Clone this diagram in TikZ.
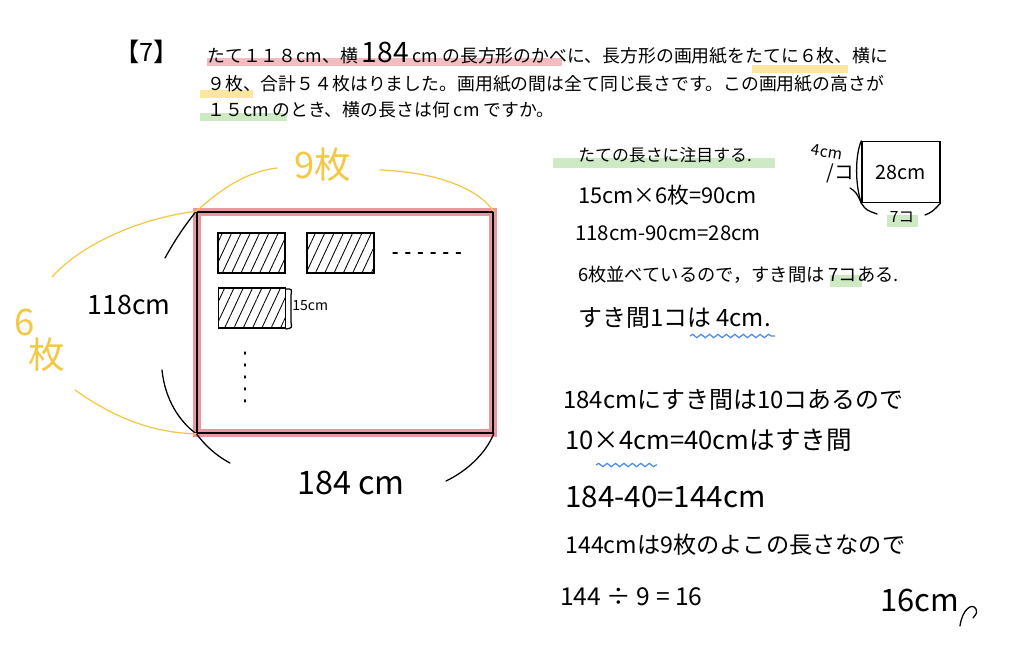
\documentclass[tikz,border=0pt]{standalone}
\usepackage{fontspec}
\setmainfont{Noto Sans CJK JP}
\usetikzlibrary{decorations.pathmorphing,patterns.meta}

\definecolor{wallpink}{RGB}{234,150,160}
\definecolor{hlpink}{RGB}{242,188,194}
\definecolor{hlyellow}{RGB}{252,230,160}
\definecolor{hlgreen}{RGB}{205,234,196}
\definecolor{penyellow}{RGB}{244,200,70}
\definecolor{penblue}{RGB}{80,140,230}

\begin{document}
\begin{tikzpicture}[x=0.025cm,y=-0.025cm,
  note/.style={anchor=west,inner sep=0pt},
  hand/.style={line width=0.9pt,line cap=round},
  yhand/.style={line width=0.9pt,line cap=round,draw=penyellow},
  wave/.style={draw=penblue,line width=0.9pt,decorate,
    decoration={snake,amplitude=1.2pt,segment length=6pt}},
  band/.style={line width=0.2cm},
  paper/.style={draw,line width=0.9pt,minimum width=1.675cm,minimum height=1cm,
    pattern={Lines[angle=65,distance=6pt,line width=0.6pt]}},
  wall/.style={draw,line width=1pt,minimum width=7.4cm,minimum height=5.525cm,
    preaction={draw=wallpink,line width=6pt}}]
\useasboundingbox (0,0) rectangle (1024,650);

% highlights behind the text
\draw[band,hlpink] (207,62) -- (562,62);
\draw[band,hlyellow] (752,69) -- (848,69);
\draw[band,hlyellow] (200,94) -- (253,94);
\draw[band,hlgreen] (200,117) -- (287,117);
\draw[band,hlgreen,line width=0.25cm] (553,163) -- (775,163);
\draw[band,hlgreen,line width=0.3cm] (830,281) -- (862,281);
\draw[band,hlgreen,line width=0.3cm] (887,221) -- (918,221);

% the question
\node[note,font=\fontsize{18}{20}\selectfont] (num) at (114,52) {【7】};
\node[note,font=\fontsize{12.7}{15}\selectfont] (q1) at (207,53)
  {たて１１８cm、横 {\fontsize{20}{20}\selectfont 184} cm の長方形のかべに、長方形の画用紙をたてに６枚、横に};
\node[note,font=\fontsize{12.7}{15}\selectfont] (q2) at (207,84)
  {９枚、合計５４枚はりました。画用紙の間は全て同じ長さです。この画用紙の高さが};
\node[note,font=\fontsize{12.7}{15}\selectfont] (q3) at (207,110)
  {１５cm のとき、横の長さは何 cm ですか。};

% wall and papers
\node[wall] (wall) at (345,322.5) {};
\node[paper] (p1) at (251.5,253) {};
\node[paper] (p2) at (340.5,253) {};
\node[paper] (p3) at (252,308) {};
\draw[hand,dash pattern=on 3pt off 6pt] (393,253) -- (462,253);
\draw[hand,dash pattern=on 1.5pt off 7pt] (245,352) -- (245,410);
\draw[hand] (286,289) .. controls (292,289) .. (291,295) -- (291,322)
  .. controls (292,328) .. (286,329);
\node[note,font=\fontsize{10}{12}\selectfont] (tall) at (292,306) {15cm};

% black braces
\coordinate (lb1) at (165,258);
\coordinate (lb2) at (162,370);
\coordinate (bb1) at (230,463);
\coordinate (bb2) at (446,481);
\draw[hand] (lb1) .. controls (175,240) and (185,225) .. (wall.north west);
\draw[hand] (lb2) .. controls (165,400) and (180,422) .. (wall.south west);
\draw[hand] (wall.south west) .. controls (205,445) and (215,455) .. (bb1);
\draw[hand] (bb2) .. controls (465,472) and (485,455) .. (wall.south east);
\node[font=\fontsize{19}{22}\selectfont] (h) at (129,305) {118cm};
\node[font=\fontsize{23}{26}\selectfont] (w) at (351,483) {184 cm};

% yellow braces
\coordinate (yt1) at (277,168);
\coordinate (yt2) at (380,170);
\coordinate (yl1) at (52,277);
\coordinate (yl2) at (75,390);
\draw[yhand] (wall.north west) .. controls (220,190) and (245,172) .. (yt1);
\draw[yhand] (yt2) .. controls (430,172) and (475,185) .. (wall.north east);
\draw[yhand] (wall.north west) .. controls (140,218) and (80,245) .. (yl1);
\draw[yhand] (yl2) .. controls (110,415) and (150,433) .. (wall.south west);
\node[penyellow,font=\fontsize{26}{28}\selectfont] (nine) at (323,165) {9枚};
\node[penyellow,font=\fontsize{26}{28}\selectfont] (six) at (25,322) {6};
\node[penyellow,font=\fontsize{26}{28}\selectfont] (sixb) at (47,355) {枚};

% gap box
\node[draw,line width=0.9pt,minimum width=1.95cm,minimum height=1.525cm,
  font=\fontsize{14}{16}\selectfont] (gapbox) at (901,172) {28cm};
\coordinate (gb1) at (850,188);
\coordinate (gb2) at (877,214);
\coordinate (gb3) at (925,215);
\draw[hand] (gapbox.north west) .. controls (855,155) and (855,185) .. (gapbox.south west);
\draw[hand] (gb1) .. controls (856,192) .. (gapbox.south west);
\draw[hand] (gapbox.south west) .. controls (866,210) .. (gb2);
\draw[hand] (gb3) .. controls (932,212) .. (gapbox.south east);
\node[font=\fontsize{11}{12}\selectfont] (seven) at (902,217) {7コ};
\node[font=\fontsize{11}{12}\selectfont,rotate=-10] (per) at (827,152) {4cm};
\node[font=\fontsize{14}{15}\selectfont] (perko) at (840,173) {/コ};

% working
\node[note,font=\fontsize{12}{15}\selectfont] (n1) at (578,155) {たての長さに注目する.};
\node[note,font=\fontsize{15.5}{19}\selectfont] (n2) at (578,195) {15cm×6枚=90cm};
\node[note,font=\fontsize{14.5}{18}\selectfont] (n3) at (575,233) {118cm-90cm=28cm};
\node[note,font=\fontsize{13}{16}\selectfont] (n4) at (578,275) {6枚並べているので，すき間は 7コある.};
\node[note,font=\fontsize{17}{20}\selectfont] (n5) at (578,318) {すき間1コは 4cm.};
\node[note,font=\fontsize{17}{20}\selectfont] (n6) at (563,400) {184cmにすき間は10コあるので};
\node[note,font=\fontsize{18.2}{22}\selectfont] (n7) at (565,440) {10×4cm=40cmはすき間};
\node[note,font=\fontsize{21}{24}\selectfont] (n8) at (565,497) {184-40=144cm};
\node[note,font=\fontsize{16.5}{20}\selectfont] (n9) at (565,545) {144cmは9枚のよこの長さなので};
\node[note,font=\fontsize{17.5}{22}\selectfont] (n10) at (560,597) {144 ÷ 9 = 16};
\node[note,font=\fontsize{22}{26}\selectfont] (ans) at (880,600) {16cm};
\coordinate (c1) at (960,626);
\coordinate (c2) at (973,618);
\draw[hand] (c1) .. controls (962,610) and (972,602) .. (976,609) .. controls (977,613) .. (c2);

% wavy underlines
\draw[wave] (690,336) -- (775,336);
\draw[wave] (596,465) -- (657,465);
\end{tikzpicture}
\end{document}
